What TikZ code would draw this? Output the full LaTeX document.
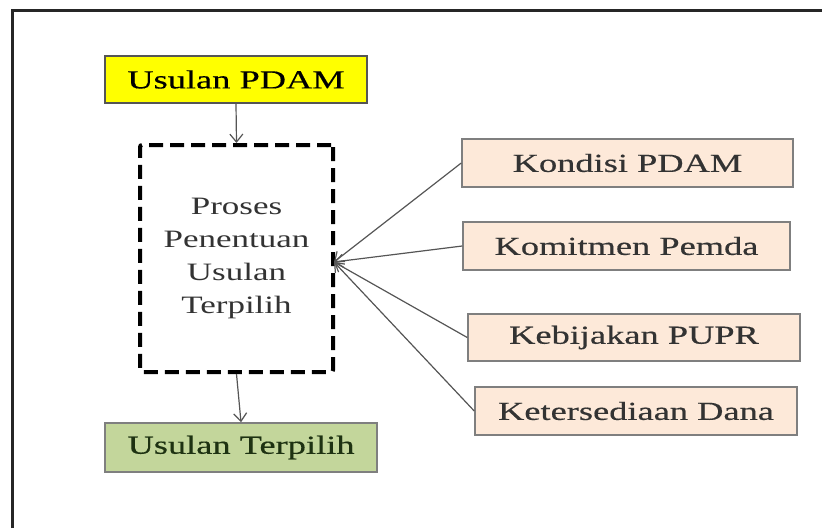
\documentclass[tikz,border=0pt]{standalone}
\usepackage{fontspec}
\setmainfont{Liberation Serif}[FakeStretch=1.4,FakeBold=0.4]
\newfontfamily\tipis{Liberation Serif}[FakeStretch=1.4]
\usepackage{tikz}
\usetikzlibrary{arrows.meta}
\definecolor{kuning}{HTML}{FFFF00}
\definecolor{hijau}{HTML}{C3D69B}
\definecolor{hijautua}{HTML}{1E3212}
\definecolor{krem}{HTML}{FDE9D9}
\definecolor{abu}{HTML}{7F7F7F}
\definecolor{abutua}{HTML}{555555}
\definecolor{teks}{HTML}{333333}
\tikzset{
  kotak/.style={draw=abu,line width=1.5pt,inner sep=0pt,align=center,
                font=\fontsize{26}{33}\selectfont},
  faktor/.style={kotak,fill=krem,text=teks,minimum height=48pt},
  panah/.style={-{Straight Barb[length=8pt,width=13pt]},line width=1.2pt,color=abutua},
}
\begin{document}
\begin{tikzpicture}[x=1pt,y=-1pt]
  \useasboundingbox (0,0) rectangle (822,528);
  \draw[line width=3pt,color=black!85] (12,528) -- (12,10) -- (822,10);
  \node[kotak,fill=kuning,draw=abutua,minimum width=262pt,minimum height=47pt] (usul) at (236,79.5) {Usulan PDAM};
  \node[draw=black,line width=4pt,dash pattern=on 14pt off 7pt,rounded corners=2pt,
        minimum width=193pt,minimum height=227pt,align=center,text=teks,
        font=\tipis\fontsize{25}{33}\selectfont] (proses) at (236.5,258.5) {Proses\\Penentuan\\Usulan\\Terpilih};
  \node[kotak,fill=hijau,text=hijautua,minimum width=272pt,minimum height=49pt] (terpilih) at (241,447.5) {Usulan Terpilih};
  \node[faktor,minimum width=331pt] (kondisi) at (627.5,163) {Kondisi PDAM};
  \node[faktor,minimum width=327pt] (komitmen) at (626.5,246) {Komitmen Pemda};
  \node[faktor,minimum width=332pt,minimum height=47pt] (kebijakan) at (634,337.5) {Kebijakan PUPR};
  \node[faktor,minimum width=322pt] (dana) at (636,411) {Ketersediaan Dana};
  \coordinate (titik) at (334,262);
  \draw[panah] (usul.south) -- (proses.north);
  \draw[panah] (proses.south) -- (terpilih.north);
  \foreach \f in {kondisi,komitmen,kebijakan,dana}
    \draw[panah] (\f.west) -- (titik);
\end{tikzpicture}
\end{document}
